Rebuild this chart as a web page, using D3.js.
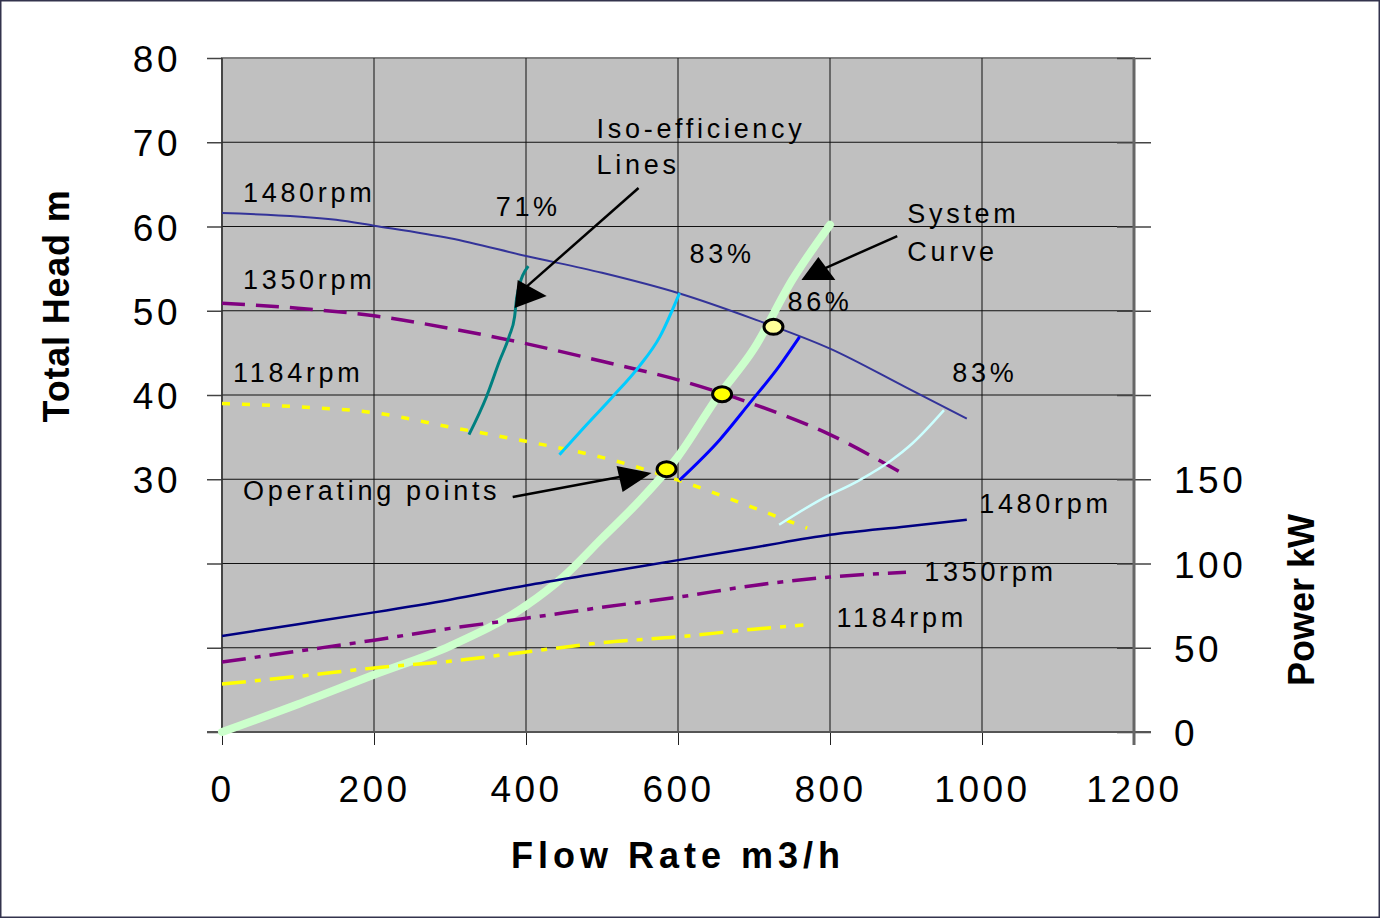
<!DOCTYPE html>
<html>
<head>
<meta charset="utf-8">
<script src="https://cdn.jsdelivr.net/npm/d3@7"></script>
<style>
  html, body { margin: 0; padding: 0; background: #ffffff; }
  svg { display: block; font-family: "Liberation Sans", Arial, sans-serif; }
</style>
</head>
<body>
<svg id="chart" width="1380" height="918"></svg>
<script>
// ---- Axis ticks ----
const flowTicks = [0, 200, 400, 600, 800, 1000, 1200];
const headTicks = [0, 10, 20, 30, 40, 50, 60, 70, 80];
const headTickLabels = ["", "", "", "30", "40", "50", "60", "70", "80"];
const powerTicks = [0, 50, 100, 150, 200, 250, 300, 350, 400];
const powerTickLabels = ["0", "50", "100", "150", "", "", "", "", ""];

// ---- Pump head curves: [flow m3/h, head m] ----
const head1480 = [[0, 61.6], [150, 60.8], [200, 60.1], [300, 58.6], [400, 56.5], [500, 54.5],
                  [600, 52.1], [700, 49.0], [800, 45.5], [900, 40.9], [980, 37.2]];
const head1350 = [[0, 50.9], [100, 50.3], [200, 49.4], [300, 47.9], [400, 46.1], [500, 44.0],
                  [600, 41.8], [700, 38.9], [800, 35.3], [895, 30.7]];
const head1184 = [[0, 39.0], [100, 38.6], [200, 37.9], [300, 36.2], [400, 34.5], [500, 32.6],
                  [600, 29.9], [700, 26.6], [770, 24.2]];

// ---- Shaft power curves: [flow m3/h, power kW] ----
const power1480 = [[0, 57], [100, 64], [200, 71], [300, 78.5], [400, 87], [500, 94.5],
                   [600, 102], [700, 109.5], [800, 117], [900, 122], [980, 126]];
const power1350 = [[0, 41.5], [100, 48], [200, 54.5], [300, 61.5], [400, 67.5], [500, 74],
                   [600, 80], [700, 87], [800, 92], [900, 94.8]];
const power1184 = [[0, 28.5], [100, 33], [200, 38], [300, 42], [400, 47.5], [500, 53],
                   [600, 56.5], [700, 61], [765, 63.5]];

// ---- System curve: [flow m3/h, head m] ----
const systemCurve = [[0, 0], [100, 3.3], [200, 6.8], [300, 10.2], [400, 15], [450, 18.5],
                     [500, 23], [550, 27.5], [600, 32.7], [650, 39.5], [700, 45.5],
                     [750, 53.6], [800, 60.2]];

// ---- Iso-efficiency lines: [flow m3/h, head m] ----
const iso71 = [[325, 35.3], [348, 39.8], [365, 44], [378, 47], [385, 49.3], [388, 51.7], [403, 55.3]];
const iso83a = [[444, 32.9], [480, 36.5], [514, 39.8], [549, 43.4], [576, 46.9], [602, 52.1]];
const iso86 = [[602, 29.9], [655, 34.7], [694, 39], [733, 43.4], [760, 46.9]];
const iso83b = [[733, 24.6], [786, 27.5], [839, 29.9], [880, 32.2], [909, 34.3], [950, 38.2]];

// ---- Operating points ----
const opFlow = [585, 658, 725.6];
const opHead = [31.2, 40.1, 48.1];

// ---- Layout ----
const W = 1380, H = 918;
const plot = { left: 222, right: 1134, top: 58, bottom: 732 };
const FONT = '"Liberation Sans", Arial, sans-serif';

const svg = d3.select("#chart");

const x = d3.scaleLinear().domain([0, 1200]).range([plot.left, plot.right]);
const yHead = d3.scaleLinear().domain([0, 80]).range([plot.bottom, plot.top]);
const yPow = d3.scaleLinear().domain([0, 400]).range([plot.bottom, plot.top]);

// outer frame
svg.append("rect")
  .attr("x", 0.75).attr("y", 0.75).attr("width", W - 1.5).attr("height", H - 1.5)
  .attr("fill", "#ffffff").attr("stroke", "#33334d").attr("stroke-width", 1.5);

// plot background
svg.append("rect")
  .attr("x", plot.left).attr("y", plot.top)
  .attr("width", plot.right - plot.left).attr("height", plot.bottom - plot.top)
  .attr("fill", "#c0c0c0").attr("stroke", "#808080").attr("stroke-width", 2);

// grid
const grid = svg.append("g").attr("stroke", "#111").attr("stroke-width", 1);
grid.selectAll("line.v").data(flowTicks.filter(d => d > 0 && d < 1200)).join("line")
  .attr("x1", d => x(d)).attr("x2", d => x(d))
  .attr("y1", plot.top).attr("y2", plot.bottom);
grid.selectAll("line.h").data(headTicks.filter(d => d > 0 && d < 80)).join("line")
  .attr("x1", plot.left).attr("x2", plot.right)
  .attr("y1", d => yHead(d)).attr("y2", d => yHead(d));

// axes
const tickFont = g => g.selectAll("text")
  .attr("font-family", FONT).attr("font-size", 37)
  .style("letter-spacing", "3.5px").attr("fill", "#000");

const xAxisG = svg.append("g").attr("transform", `translate(0,${plot.bottom})`)
  .call(d3.axisBottom(x).tickValues(flowTicks).tickSize(13).tickPadding(31).tickFormat(d3.format("d")));
xAxisG.select(".domain").remove();
xAxisG.selectAll(".tick line").attr("stroke", "#222");
tickFont(xAxisG);

const yAxisG = svg.append("g").attr("transform", `translate(${plot.left},0)`)
  .call(d3.axisLeft(yHead).tickValues(headTicks).tickSize(15).tickPadding(26)
    .tickFormat((d, i) => headTickLabels[i]));
yAxisG.select(".domain").remove();
yAxisG.selectAll(".tick line").attr("stroke", "#444").attr("stroke-width", 1.5);
tickFont(yAxisG);
yAxisG.selectAll("text").attr("dy", "0.37em");

const pAxisG = svg.append("g").attr("transform", `translate(${plot.right},0)`)
  .call(d3.axisRight(yPow).tickValues(powerTicks).tickSize(17).tickPadding(23)
    .tickFormat((d, i) => powerTickLabels[i]));
pAxisG.select(".domain").remove();
pAxisG.selectAll(".tick line").attr("x1", -17).attr("stroke", "#444").attr("stroke-width", 1.5);
tickFont(pAxisG);
pAxisG.selectAll("text").attr("dy", "0.37em");

// axis lines
svg.append("line").attr("x1", plot.left).attr("x2", plot.left)
  .attr("y1", plot.top).attr("y2", plot.bottom).attr("stroke", "#333").attr("stroke-width", 1.5);
svg.append("line").attr("x1", plot.left - 15).attr("x2", plot.right + 17)
  .attr("y1", plot.bottom).attr("y2", plot.bottom).attr("stroke", "#555").attr("stroke-width", 2);
svg.append("line").attr("x1", plot.right).attr("x2", plot.right)
  .attr("y1", plot.top).attr("y2", plot.bottom + 13).attr("stroke", "#666").attr("stroke-width", 3);

// curves
const lineHead = d3.line().x(d => x(d[0])).y(d => yHead(d[1])).curve(d3.curveMonotoneX);
const linePow = d3.line().x(d => x(d[0])).y(d => yPow(d[1])).curve(d3.curveMonotoneX);

const curves = svg.append("g").attr("fill", "none");

function draw(gen, data, color, width, dash, cap) {
  curves.append("path").attr("d", gen(data))
    .attr("stroke", color).attr("stroke-width", width)
    .attr("stroke-dasharray", dash || null)
    .attr("stroke-linecap", cap || "butt")
    .attr("stroke-linejoin", "round");
}

draw(lineHead, systemCurve, "#ccffcc", 8, null, "round");

draw(linePow, power1480, "#000080", 2.5);
draw(linePow, power1350, "#800080", 3.5, "24,9,6,9");
draw(linePow, power1184, "#ffff00", 3.5, "24,9,6,9");

draw(lineHead, head1480, "#333399", 2);
draw(lineHead, head1350, "#800080", 3.5, "23,11");
draw(lineHead, head1184, "#ffff00", 3.5, "8,12");

draw(lineHead, iso71, "#008080", 3);
draw(lineHead, iso83a, "#00ccff", 3);
draw(lineHead, iso86, "#0000ff", 3);
draw(lineHead, iso83b, "#ccffff", 2.5);

// operating points
const opFill = ["#ffff00", "#ffff00", "#ffff99"];
svg.append("g").selectAll("ellipse").data(opFlow).join("ellipse")
  .attr("cx", (d, i) => x(d)).attr("cy", (d, i) => yHead(opHead[i]))
  .attr("rx", 9.5).attr("ry", 7.5)
  .attr("fill", (d, i) => opFill[i]).attr("stroke", "#000").attr("stroke-width", 3);

// callout arrows (flow, head units)
const arrows = [
  { from: [548.1, 64.57], to: [400, 52.8], head: [[389.1, 53.65], [427.2, 51.75], [385.1, 50.33]] },
  { from: [888.5, 58.87], to: [793.9, 55.07], head: [[784.7, 56.38], [762.4, 53.65], [807.1, 53.65]] },
  { from: [382.5, 27.89], to: [525, 30.3], head: [[519.2, 31.57], [527.1, 28.49], [565.2, 30.74]] }
];
const ag = svg.append("g");
arrows.forEach(a => {
  ag.append("line")
    .attr("x1", x(a.from[0])).attr("y1", yHead(a.from[1]))
    .attr("x2", x(a.to[0])).attr("y2", yHead(a.to[1]))
    .attr("stroke", "#000").attr("stroke-width", 2.5);
  ag.append("polygon")
    .attr("points", a.head.map(p => [x(p[0]), yHead(p[1])].join(",")).join(" "))
    .attr("fill", "#000");
});

// curve labels (flow, head units, left baseline)
const notes = [
  { text: "1480rpm", q: 27.6, h: 62.9 },
  { text: "1350rpm", q: 27.6, h: 52.58 },
  { text: "1184rpm", q: 14.5, h: 41.54 },
  { text: "71%", q: 360.1, h: 61.25 },
  { text: "Iso-efficiency", q: 492.9, h: 70.5 },
  { text: "Lines", q: 492.9, h: 66.23 },
  { text: "83%", q: 615.1, h: 55.67 },
  { text: "System", q: 901.7, h: 60.42 },
  { text: "Curve", q: 901.7, h: 55.91 },
  { text: "86%", q: 744, h: 49.97 },
  { text: "83%", q: 960.8, h: 41.54 },
  { text: "Operating points", q: 27.6, h: 27.54 },
  { text: "1480rpm", q: 996.3, h: 26.0 },
  { text: "1350rpm", q: 924, h: 17.92 },
  { text: "1184rpm", q: 808.4, h: 12.46 }
];
svg.append("g").selectAll("text").data(notes).join("text")
  .attr("x", d => x(d.q)).attr("y", d => yHead(d.h))
  .attr("font-family", FONT).attr("font-size", 27)
  .style("letter-spacing", "3.7px").attr("fill", "#000")
  .text(d => d.text);

// axis titles
svg.append("text")
  .attr("transform", "translate(69,306) rotate(-90)")
  .attr("text-anchor", "middle").attr("font-family", FONT)
  .attr("font-size", 36).attr("font-weight", "bold").style("letter-spacing", "0.8px")
  .text("Total Head m");

svg.append("text")
  .attr("transform", "translate(1314,600) rotate(-90)")
  .attr("text-anchor", "middle").attr("font-family", FONT)
  .attr("font-size", 36).attr("font-weight", "bold")
  .text("Power kW");

svg.append("text")
  .attr("x", 678).attr("y", 868)
  .attr("text-anchor", "middle").attr("font-family", FONT)
  .attr("font-size", 36).attr("font-weight", "bold").style("letter-spacing", "5px")
  .text("Flow Rate m3/h");
</script>
</body>
</html>
